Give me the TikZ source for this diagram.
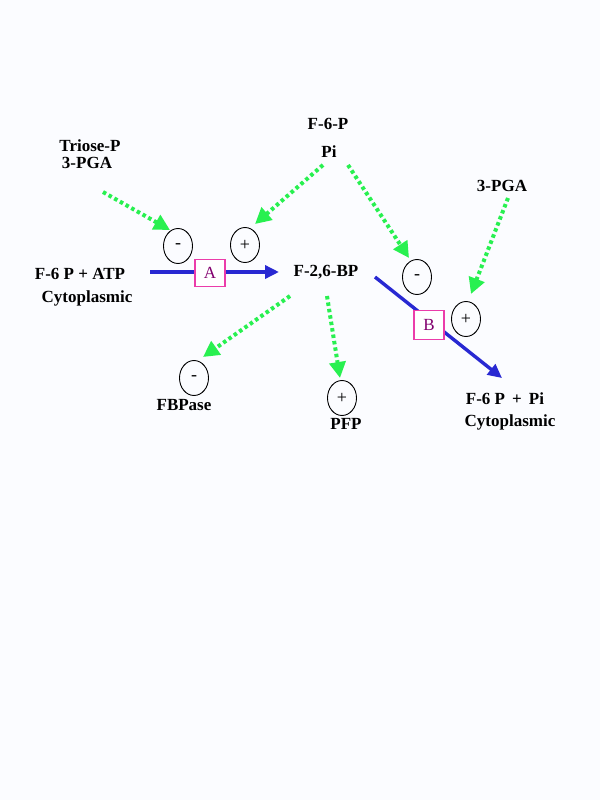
\documentclass[tikz,border=0pt]{standalone}
\usepackage{fontspec}
\setmainfont{Liberation Serif}
\usetikzlibrary{arrows.meta,shapes.geometric}
\definecolor{bg}{RGB}{251,252,255}
\definecolor{grn}{RGB}{40,240,80}
\definecolor{blu}{RGB}{40,40,210}
\definecolor{mag}{RGB}{235,60,170}
\definecolor{pur}{RGB}{130,0,110}
\begin{document}
\begin{tikzpicture}[x=1pt,y=-1pt,
  lbl/.style={font=\fontsize{17}{19}\selectfont\bfseries, inner sep=0pt},
  sgn/.style={draw, ellipse, minimum width=29pt, minimum height=35pt, inner sep=0pt, font=\fontsize{18}{19}\selectfont, line width=0.9pt},
  enz/.style={draw=mag, fill=white, minimum width=30pt, minimum height=27pt, inner sep=0pt, text=pur, font=\fontsize{17}{18}\selectfont, line width=1.1pt},
  eff/.style={draw=grn, line width=4pt, dash pattern=on 3.5pt off 3pt, -{Triangle[length=16pt,width=16pt,fill=grn]}},
  rxn/.style={draw=blu, line width=3.4pt, -{Triangle[length=14pt,width=13pt]}}]
\fill[bg] (0,0) rectangle (600,800);
\useasboundingbox (0,0) rectangle (600,800);
% labels
\node[lbl] (trio) at (90,146) {Triose-P};
\node[lbl] (pga1) at (87,163) {3-PGA};
\node[lbl] (f6p) at (328,124) {F-6-P};
\node[lbl] (pi) at (329,152) {Pi};
\node[lbl] (pga2) at (502,186) {3-PGA};
\node[lbl] (sub) at (80,274) {F-6 P + ATP};
\node[lbl] (cyt1) at (87,298) {Cytoplasmic};
\node[lbl] (f26) at (326,272) {F-2,6-BP};
\node[lbl] (prod) at (505,399) {F-6 P \,+\, Pi};
\node[lbl] (cyt2) at (510,422) {Cytoplasmic};
\node[lbl] (fbp) at (184,405) {FBPase};
\node[lbl] (pfp) at (346,424) {PFP};
% sign circles
\node[sgn] (m1) at (178,246) {-};
\node[sgn] (p1) at (245,245) {+};
\node[sgn] (m2) at (417,277) {-};
\node[sgn] (p2) at (466,319) {+};
\node[sgn] (m3) at (194,378) {-};
\node[sgn] (p3) at (342,398) {+};
% reaction coordinates
\coordinate (a0) at (150,272);
\coordinate (a1) at (279,272);
\coordinate (b0) at (375,277);
\coordinate (b1) at (502,378);
\draw[rxn] (a0) -- (a1);
\draw[rxn] (b0) -- (b1);
\node[enz] (A) at (210,273) {A};
\node[enz, minimum height=29pt] (B) at (429,325) {B};
% effector coordinates
\coordinate (e1s) at (103,192); \coordinate (e1t) at (170,230);
\coordinate (e2s) at (323,165); \coordinate (e2t) at (255,224);
\coordinate (e3s) at (348,165); \coordinate (e3t) at (409,258);
\coordinate (e4s) at (508,198); \coordinate (e4t) at (471,294);
\coordinate (e5s) at (290,296); \coordinate (e5t) at (203,357);
\coordinate (e6s) at (327,296); \coordinate (e6t) at (340,378);
\draw[eff] (e1s) -- (e1t);
\draw[eff] (e2s) -- (e2t);
\draw[eff] (e3s) -- (e3t);
\draw[eff] (e4s) -- (e4t);
\draw[eff] (e5s) -- (e5t);
\draw[eff] (e6s) -- (e6t);
\end{tikzpicture}
\end{document}
